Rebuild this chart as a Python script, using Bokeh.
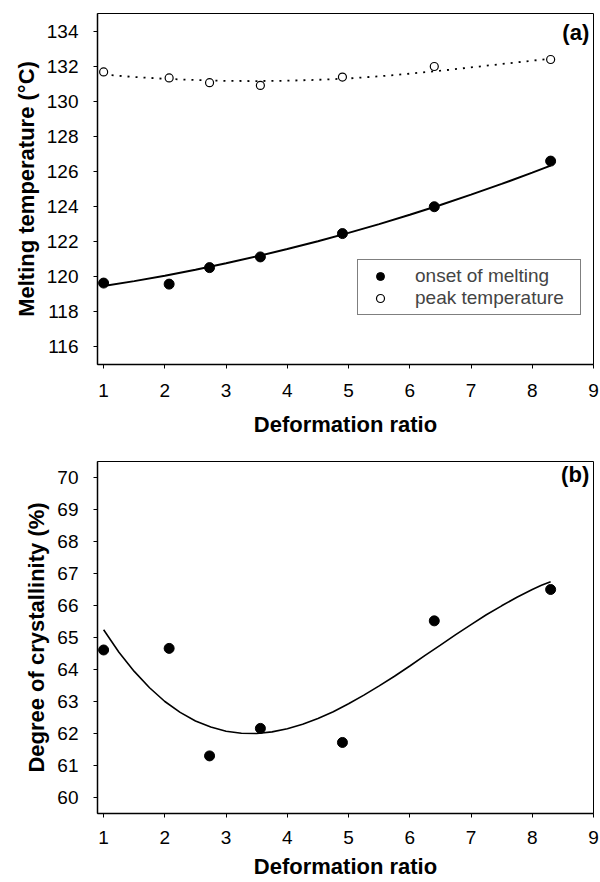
from bokeh.plotting import figure
from bokeh.layouts import column
from bokeh.models import FixedTicker, Range1d, Legend, LegendItem, Label
from bokeh.embed import file_html
from bokeh.resources import INLINE

# ---- data ----
deformation = [1.0, 2.07, 2.73, 3.56, 4.9, 6.4, 8.3]
onset = [119.64, 119.58, 120.52, 121.13, 122.46, 123.99, 126.59]
peak = [131.67, 131.33, 131.06, 130.90, 131.38, 131.98, 132.38]
crystallinity = [64.61, 64.66, 61.30, 62.16, 61.72, 65.52, 66.50]

# fitted curves
fit_x = [1.0, 1.5, 2.0, 2.5, 3.0, 3.5, 4.0, 4.5, 5.0, 5.5, 6.0, 6.5, 7.0, 7.5, 8.0, 8.3]
onset_fit = [119.47, 119.75, 120.06, 120.40, 120.77, 121.16, 121.58, 122.02, 122.50,
             123.00, 123.53, 124.09, 124.68, 125.29, 125.93, 126.33]
peak_fit = [131.52, 131.38, 131.28, 131.21, 131.16, 131.15, 131.17, 131.22, 131.30,
            131.42, 131.57, 131.74, 131.93, 132.12, 132.31, 132.42]
cryst_fit_x = [1.0, 1.25, 1.5, 1.75, 2.0, 2.25, 2.5, 2.75, 3.0, 3.25, 3.5, 3.75, 4.0,
               4.25, 4.5, 4.75, 5.0, 5.25, 5.5, 5.75, 6.0, 6.25, 6.5, 6.75, 7.0, 7.25,
               7.5, 7.75, 8.0, 8.15, 8.3]
cryst_fit = [65.24, 64.54, 63.94, 63.43, 63.00, 62.66, 62.39, 62.20, 62.07, 62.01, 62.00,
             62.05, 62.15, 62.29, 62.47, 62.68, 62.93, 63.20, 63.49, 63.79, 64.11, 64.44,
             64.76, 65.09, 65.40, 65.71, 65.99, 66.26, 66.50, 66.63, 66.74]

x_ticks = [1, 2, 3, 4, 5, 6, 7, 8, 9]
temp_ticks = [116, 118, 120, 122, 124, 126, 128, 130, 132, 134]
cryst_ticks = [60, 61, 62, 63, 64, 65, 66, 67, 68, 69, 70]

FONT = "Liberation Sans"


def make_fig(y_range, yticks, ylabel, frame_h, border_top, border_bottom,
             x_label_standoff, x_tick_standoff):
    p = figure(frame_width=496, frame_height=frame_h,
               min_border_left=97, min_border_right=7,
               min_border_top=border_top, min_border_bottom=border_bottom,
               x_range=Range1d(0.9, 9.0), y_range=Range1d(*y_range),
               output_backend="svg", toolbar_location=None)
    p.xgrid.visible = False
    p.ygrid.visible = False
    p.outline_line_color = "black"
    p.outline_line_width = 1
    p.background_fill_color = "white"
    p.border_fill_color = "white"

    p.xaxis.ticker = FixedTicker(ticks=x_ticks)
    p.yaxis.ticker = FixedTicker(ticks=yticks)
    for ax in (p.xaxis[0], p.yaxis[0]):
        ax.axis_line_color = "black"
        ax.axis_line_width = 1.5
        ax.major_tick_in = 0
        ax.major_tick_out = 4
        ax.major_tick_line_color = "black"
        ax.minor_tick_line_color = None
        ax.major_label_text_font = FONT
        ax.major_label_text_font_size = "19px"
        ax.major_label_text_color = "black"
        ax.axis_label_text_font = FONT
        ax.axis_label_text_font_size = "22px"
        ax.axis_label_text_font_style = "bold"
        ax.axis_label_text_color = "black"
    p.xaxis.axis_label = "Deformation ratio"
    p.yaxis.axis_label = ylabel
    p.xaxis.major_label_standoff = x_tick_standoff
    p.xaxis.axis_label_standoff = x_label_standoff
    p.yaxis.major_label_standoff = 15
    p.yaxis.axis_label_standoff = 5
    return p


# ---- panel (a) ----
p1 = make_fig((115, 135), temp_ticks, "Melting temperature (°C)", 351, 13, 80, 12, 15)
p1.line(fit_x, onset_fit, line_color="black", line_width=2)
p1.line(fit_x, peak_fit, line_color="black", line_width=1.8, line_dash="2 6")
r_on = p1.scatter(deformation, onset, marker="circle", size=10,
                  fill_color="black", line_color="black")
r_pk = p1.scatter(deformation, peak, marker="circle", size=8,
                  fill_color="white", line_color="black", line_width=1.2)
legend = Legend(items=[LegendItem(label="onset of melting", renderers=[r_on]),
                       LegendItem(label="peak temperature", renderers=[r_pk])],
                location=(260, 49), padding=5, spacing=-3, margin=0,
                glyph_width=34, label_standoff=18, label_width=160,
                label_text_font=FONT, label_text_font_size="19px",
                border_line_color="black", border_line_width=1,
                background_fill_color="white", background_fill_alpha=1)
p1.add_layout(legend)
p1.add_layout(Label(x=8.93, y=133.9, text="(a)", text_align="right",
                    text_baseline="middle", text_font=FONT, text_font_size="22px",
                    text_font_style="bold", text_color="black"))

# ---- panel (b) ----
p2 = make_fig((59.5, 70.5), cryst_ticks, "Degree of crystallinity (%)", 352, 17, 69, 7, 13)
p2.line(cryst_fit_x, cryst_fit, line_color="black", line_width=1.6)
p2.scatter(deformation, crystallinity, marker="circle", size=10,
           fill_color="black", line_color="black")
p2.add_layout(Label(x=8.93, y=70.1, text="(b)", text_align="right",
                    text_baseline="middle", text_font=FONT, text_font_size="22px",
                    text_font_style="bold", text_color="black"))

layout = column(p1, p2, spacing=0)
open("out.html", "w").write(file_html(layout, INLINE))
